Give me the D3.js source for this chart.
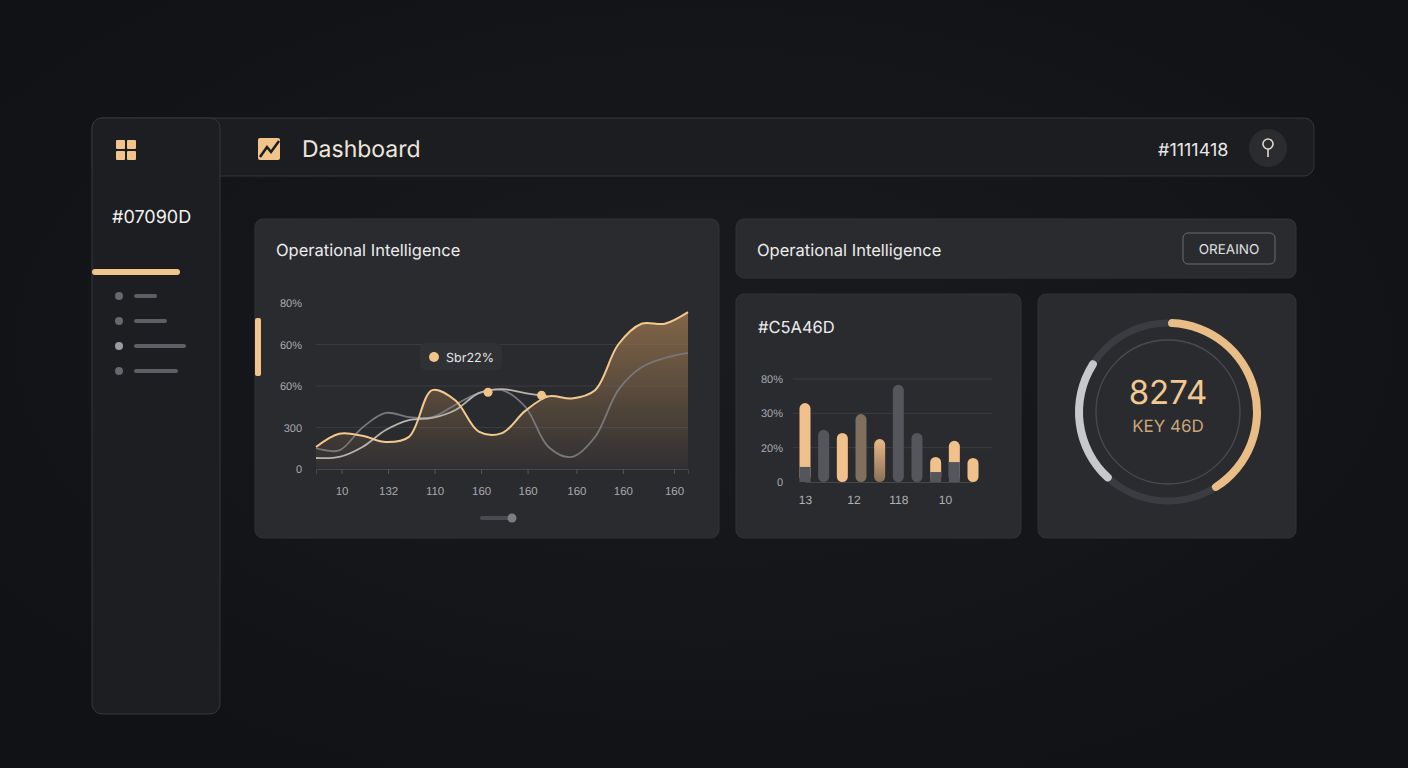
<!DOCTYPE html>
<html><head><meta charset="utf-8">
<script src="https://cdn.jsdelivr.net/npm/d3@7"></script>
<style>body{margin:0;background:#131417;overflow:hidden}svg{display:block;font-family:Inter,"Noto Sans",sans-serif;text-rendering:geometricPrecision}</style>
</head><body><div id="chart"></div>
<script>
// line chart data (index positions 0..16)
const lineGold  = [10.6,17,16,13,15.5,38,33,18,17.3,28,35,34,38,60,70,70,75.6];
const lineLight = [5.3,5.8,10.6,18.8,23.6,24.6,28.4,36.6,38.5,36.6,35];
const lineDark  = [10,9,20,27,25,25,31,36.6,38,30,10.6,5.8,15.4,38,49,53.5,56];
const lineDots = [{i:7.4, v:37}, {i:9.7, v:35.5}];
const lineYTicks = [0,20,40,60,80];
const lineYLabels = ['0','300','60%','60%','80%'];
const lineXTicks = [1.1,3.1,5.1,7.1,9.1,11.2,13.2,15.4];
const lineXLabels = ['10','132','110','160','160','160','160','160'];
// bar chart data (scale units, 0..3)
const barTop    = [2.3,1.52,1.43,1.98,1.25,2.83,1.43,0.73,1.2,0.7];
const barBase   = [0.44,0,0,0,0,0,0,0.29,0.58,0];
const barKind   = ['gold','gray','gold','taupe','goldfade','gray','gray','gold','gold','gold'];
const barYLabels = ['0','20%','30%','80%'];
const barXTicks = [0,2.6,5,7.5];
const barXLabels = ['13','12','118','10'];
// gauge
const gaugeValue = '8274', gaugeLabel = 'KEY 46D';
const gaugeGold = [0, 150], gaugeGray = [220, 305];

const gold = '#f0c48a';
const svg = d3.select('#chart').append('svg').attr('width',1408).attr('height',768);
const defs = svg.append('defs');
const bg = defs.append('radialGradient').attr('id','bgG').attr('cx','50%').attr('cy','45%').attr('r','60%');
bg.append('stop').attr('offset','0').attr('stop-color','#1a1b1e');
bg.append('stop').attr('offset','1').attr('stop-color','#111215');
svg.append('rect').attr('width',1408).attr('height',768).attr('fill','url(#bgG)');

// shell
svg.append('rect').attr('x',92).attr('y',118).attr('width',1222).attr('height',58).attr('rx',10)
  .attr('fill','#1c1d20').attr('stroke','#34363a');
svg.append('rect').attr('x',92).attr('y',118).attr('width',128).attr('height',596).attr('rx',10)
  .attr('fill','#1d1e21').attr('stroke','#34363a');

// sidebar
[[116,140],[127,140],[116,151],[127,151]].forEach(p=>svg.append('rect').attr('x',p[0]).attr('y',p[1]).attr('width',9).attr('height',9).attr('rx',1).attr('fill',gold));
svg.append('text').attr('x',112).attr('y',223).attr('fill','#f2f2f2').style('font-size','18px').text('#07090D');
svg.append('rect').attr('x',92).attr('y',269).attr('width',88).attr('height',6).attr('rx',3).attr('fill',gold);
[[296,157],[321,167],[346,186],[371,178]].forEach((m,k)=>{
  svg.append('circle').attr('cx',119).attr('cy',m[0]).attr('r',4).attr('fill',k==2?'#9a9ba0':'#66686d');
  svg.append('rect').attr('x',134).attr('y',m[0]-2).attr('width',m[1]-134).attr('height',4).attr('rx',2).attr('fill','#5d5f64');
});

// header
svg.append('rect').attr('x',258).attr('y',138).attr('width',22).attr('height',22).attr('rx',2).attr('fill',gold);
svg.append('path').attr('d','M260,157 L267,147 L271,152 L279,141').attr('fill','none').attr('stroke','#1c1d20').attr('stroke-width',2.5);
svg.append('text').attr('x',302).attr('y',157).attr('fill','#ece6dc').style('font-size','23px').text('Dashboard');
svg.append('text').attr('x',1158).attr('y',156).attr('fill','#e8e8e8').style('font-size','18px').text('#1111418');
svg.append('circle').attr('cx',1268).attr('cy',148).attr('r',19).attr('fill','#2b2c30');
svg.append('circle').attr('cx',1268).attr('cy',144).attr('r',5).attr('fill','none').attr('stroke','#e0d6c6').attr('stroke-width',1.6);
svg.append('line').attr('x1',1268).attr('x2',1268).attr('y1',149).attr('y2',157).attr('stroke','#e0d6c6').attr('stroke-width',1.6);

function panel(x,y,w,h){svg.append('rect').attr('x',x).attr('y',y).attr('width',w).attr('height',h).attr('rx',8).attr('fill','#2a2b2f').attr('stroke','#323337');}
panel(255,219,464,319); panel(736,219,560,59); panel(736,294,285,244); panel(1038,294,258,244);

// ---- line chart
svg.append('text').attr('x',276).attr('y',256).attr('fill','#ececec').style('font-size','16.5px').text('Operational Intelligence');
svg.append('rect').attr('x',255).attr('y',318).attr('width',6).attr('height',58).attr('rx',2).attr('fill',gold);
const x = d3.scaleLinear().domain([0,16]).range([316,688]);
const y = d3.scaleLinear().domain([0,80]).range([469,303]);
const g = svg.append('g');
g.selectAll('.gl').data(lineYTicks.slice(1,4)).enter().append('line')
  .attr('x1',316).attr('x2',688).attr('y1',d=>y(d)).attr('y2',d=>y(d)).attr('stroke','#3a3b40');
g.append('g').attr('transform','translate(0,469)')
  .call(d3.axisBottom(x).tickValues(lineXTicks).tickSize(5).tickFormat((d,i)=>lineXLabels[i]))
  .call(a=>{a.select('.domain').attr('stroke','#46474c');a.selectAll('line').attr('stroke','#55565b');
    a.selectAll('text').style('fill','#a8a8ac').attr('dy','1.6em').style('font-size','11.5px');});
g.append('g').attr('transform','translate(305,0)')
  .call(d3.axisLeft(y).tickValues(lineYTicks).tickSize(0).tickFormat((d,i)=>lineYLabels[i]))
  .call(a=>{a.select('.domain').remove();a.selectAll('text').style('fill','#a8a8ac').style('font-size','11px');});
const ag = defs.append('linearGradient').attr('id','areaG').attr('x1',0).attr('x2',0).attr('y1',0).attr('y2',1);
ag.append('stop').attr('offset','0').attr('stop-color','#a07a50').attr('stop-opacity',0.75);
ag.append('stop').attr('offset','1').attr('stop-color','#a07a50').attr('stop-opacity',0.05);
const curve = d3.curveCatmullRom.alpha(0.5);
g.append('path').datum(lineGold).attr('fill','url(#areaG)')
  .attr('d',d3.area().x((d,i)=>x(i)).y0(469).y1(d=>y(d)).curve(curve));
const ln = d3.line().x((d,i)=>x(i)).y(d=>y(d)).curve(curve);
g.append('path').datum(lineDark).attr('fill','none').attr('stroke','#78787b').attr('stroke-width',1.8).attr('d',ln);
g.append('path').datum(lineLight).attr('fill','none').attr('stroke','#b8b4ad').attr('stroke-width',1.8).attr('d',ln);
g.append('path').datum(lineGold).attr('fill','none').attr('stroke','#f3c98f').attr('stroke-width',2).attr('d',ln);
g.selectAll('.dot').data(lineDots).enter().append('circle').attr('cx',d=>x(d.i)).attr('cy',d=>y(d.v)).attr('r',4.5).attr('fill',gold);
svg.append('rect').attr('x',420).attr('y',343).attr('width',82).attr('height',27).attr('rx',6).attr('fill','#303135');
svg.append('circle').attr('cx',434).attr('cy',357).attr('r',5).attr('fill',gold);
svg.append('text').attr('x',446).attr('y',361.5).attr('fill','#e6e6e6').style('font-size','12.5px').text('Sbr22%');
svg.append('line').attr('x1',482).attr('x2',510).attr('y1',518).attr('y2',518).attr('stroke','#4a4b50').attr('stroke-width',4).attr('stroke-linecap','round');
svg.append('circle').attr('cx',512).attr('cy',518).attr('r',4.5).attr('fill','#7c7d82');

// ---- top right
svg.append('text').attr('x',757).attr('y',256).attr('fill','#ececec').style('font-size','16.5px').text('Operational Intelligence');
svg.append('rect').attr('x',1183).attr('y',233).attr('width',92).attr('height',31).attr('rx',5).attr('fill','#2a2b2f').attr('stroke','#6a6b70');
svg.append('text').attr('x',1229).attr('y',254).attr('text-anchor','middle').attr('fill','#e0e0e0').style('font-size','13.5px').text('OREAINO');

// ---- bars
svg.append('text').attr('x',758).attr('y',333).attr('fill','#ececec').style('font-size','16.5px').text('#C5A46D');
const by = d3.scaleLinear().domain([0,3]).range([482,379]);
const bx = d3.scaleLinear().domain([0,9]).range([805,973]);
const bg2 = svg.append('g');
bg2.selectAll('.bgl').data([1,2,3]).enter().append('line').attr('x1',793).attr('x2',992)
  .attr('y1',d=>by(d)).attr('y2',d=>by(d)).attr('stroke','#3c3d42');
bg2.append('g').attr('transform','translate(0,482)')
  .call(d3.axisBottom(bx).tickValues(barXTicks).tickSize(0).tickFormat((d,i)=>barXLabels[i]))
  .call(a=>{a.select('.domain').attr('stroke','#46474c');a.selectAll('text').style('fill','#b0b0b4').attr('dy','1.6em').style('font-size','12px');});
bg2.append('g').attr('transform','translate(786,0)')
  .call(d3.axisLeft(by).tickValues([0,1,2,3]).tickSize(0).tickFormat((d,i)=>barYLabels[i]))
  .call(a=>{a.select('.domain').remove();a.selectAll('text').style('fill','#a8a8ac').style('font-size','11px');});
const fg = defs.append('linearGradient').attr('id','fadeG').attr('x1',0).attr('x2',0).attr('y1',0).attr('y2',1);
fg.append('stop').attr('offset','0').attr('stop-color','#e8b987');
fg.append('stop').attr('offset','1').attr('stop-color','#8a7058');
const fills = {gold:'#f2c08a', gray:'#55565b', taupe:'#7e6f5e', goldfade:'url(#fadeG)'};
const bw = 11;
barTop.forEach((v,i)=>{
  const cx = bx(i);
  bg2.append('rect').attr('x',cx-bw/2).attr('y',by(v)).attr('width',bw).attr('height',by(0)-by(v)).attr('rx',5.5).attr('fill',fills[barKind[i]]);
  if(barBase[i]>0) bg2.append('rect').attr('x',cx-bw/2).attr('y',by(barBase[i])).attr('width',bw).attr('height',by(0)-by(barBase[i])).attr('fill','#55565b');
});

// ---- gauge
const gc = svg.append('g').attr('transform','translate(1168,412)');
gc.append('circle').attr('r',89).attr('fill','none').attr('stroke','#3b3c41').attr('stroke-width',7);
gc.append('circle').attr('r',72).attr('fill','none').attr('stroke','#4a4b50').attr('stroke-width',1.3);
const arc = d3.arc().innerRadius(85).outerRadius(93).cornerRadius(4);
const rad = d=>d*Math.PI/180;
gc.append('path').attr('d',arc({startAngle:rad(gaugeGold[0]),endAngle:rad(gaugeGold[1])})).attr('fill','#e9bd86');
gc.append('path').attr('d',arc({startAngle:rad(gaugeGray[0]),endAngle:rad(gaugeGray[1])})).attr('fill','#c8c8cc');
gc.append('text').attr('y',-8).attr('text-anchor','middle').attr('fill','#f0c890').style('font-size','33px').text(gaugeValue);
gc.append('text').attr('y',20).attr('text-anchor','middle').attr('fill','#c9a67a').style('font-size','17px').text(gaugeLabel);
</script></body></html>
